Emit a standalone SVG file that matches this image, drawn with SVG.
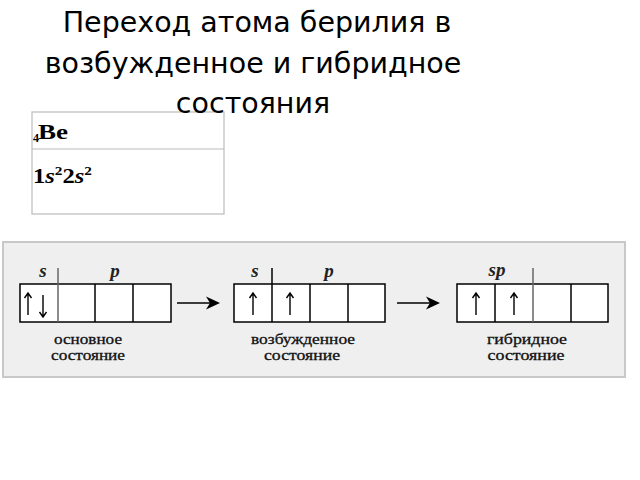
<svg xmlns="http://www.w3.org/2000/svg" width="640" height="480" viewBox="0 0 640 480">
<style>
.title{font-family:"DejaVu Sans",sans-serif;font-size:28.5px;fill:#000;text-anchor:middle}
.cell{fill:#fff;stroke:#000;stroke-width:1.5}
.div{stroke:#000;stroke-width:1.5}
.divg{stroke:#666;stroke-width:1.5}
.orb{font-family:"Liberation Serif",serif;font-style:italic;font-weight:bold;font-size:19px;fill:#222;text-anchor:middle}
.lbl{font-family:"Liberation Serif",serif;font-size:14.5px;fill:#111;stroke:#111;stroke-width:0.3;text-anchor:middle}
.spin{stroke:#000;stroke-width:1.4;fill:none}
.conn{stroke:#000;stroke-width:1.6;fill:none}
.tbl{font-family:"Liberation Serif",serif;font-weight:bold;fill:#000}
</style>
<defs>
<path id="up" class="spin" d="M0,22 V0 M-3.5,5 L0,0 L3.5,5"/>
<path id="down" class="spin" d="M0,0 V22 M-3.5,17 L0,22 L3.5,17"/>
</defs>
<rect width="640" height="480" fill="#fff"/>
<g id="table">
<rect x="32" y="112" width="192" height="102" fill="#fff" stroke="#bbb" stroke-width="1.2"/>
<line x1="32" y1="149" x2="224" y2="149" stroke="#bbb" stroke-width="1.2"/>
<text class="tbl" x="33" y="142" font-size="12">4</text>
<text class="tbl" x="38" y="138.5" font-size="21" textLength="30" lengthAdjust="spacingAndGlyphs">Be</text>
<text class="tbl" x="33" y="183" font-size="21" textLength="59" lengthAdjust="spacingAndGlyphs">1<tspan font-style="italic">s</tspan><tspan font-size="13" dy="-8">2</tspan><tspan dy="8">2</tspan><tspan font-style="italic">s</tspan><tspan font-size="13" dy="-8">2</tspan></text>
</g>
<g id="title">
<text class="title" x="257" y="32">Переход атома берилия в</text>
<text class="title" x="253" y="73">возбужденное и гибридное</text>
<text class="title" x="253" y="113">состояния</text>
</g>
<rect id="panel" x="3" y="242" width="622" height="135" fill="#efefef" stroke="#c8c8c8" stroke-width="2"/>
<g id="ground">
<rect class="cell" x="20" y="284" width="151" height="38"/>
<line class="divg" x1="58" y1="268" x2="58" y2="322"/>
<line class="div" x1="95" y1="284" x2="95" y2="322"/>
<line class="div" x1="133" y1="284" x2="133" y2="322"/>
<text class="orb" x="43" y="277">s</text>
<text class="orb" x="115" y="277">p</text>
<use href="#up" x="28" y="293"/>
<use href="#down" x="43" y="295"/>
<text class="lbl" x="88" y="344" textLength="68" lengthAdjust="spacingAndGlyphs">основное</text>
<text class="lbl" x="88" y="360" textLength="74" lengthAdjust="spacingAndGlyphs">состояние</text>
</g>
<g id="excited">
<rect class="cell" x="234" y="284" width="151" height="38"/>
<line class="div" x1="272" y1="268" x2="272" y2="322"/>
<line class="div" x1="310" y1="284" x2="310" y2="322"/>
<line class="div" x1="348" y1="284" x2="348" y2="322"/>
<text class="orb" x="255" y="277">s</text>
<text class="orb" x="329" y="277">p</text>
<use href="#up" x="253" y="293"/>
<use href="#up" x="290" y="293"/>
<text class="lbl" x="303" y="344" textLength="104" lengthAdjust="spacingAndGlyphs">возбужденное</text>
<text class="lbl" x="302" y="360" textLength="76" lengthAdjust="spacingAndGlyphs">состояние</text>
</g>
<g id="hybrid">
<rect class="cell" x="457" y="284" width="151" height="38"/>
<line class="div" x1="495" y1="284" x2="495" y2="322"/>
<line class="divg" x1="533" y1="268" x2="533" y2="322"/>
<line class="div" x1="571" y1="284" x2="571" y2="322"/>
<text class="orb" x="497" y="276">sp</text>
<use href="#up" x="476" y="293"/>
<use href="#up" x="514" y="293"/>
<text class="lbl" x="527" y="344" textLength="80" lengthAdjust="spacingAndGlyphs">гибридное</text>
<text class="lbl" x="526" y="360" textLength="77" lengthAdjust="spacingAndGlyphs">состояние</text>
</g>
<g id="connectors">
<line class="conn" x1="177" y1="303" x2="216" y2="303"/>
<path d="M206,296.5 L220,303 L206,309.5 L210,303 Z" fill="#000"/>
<line class="conn" x1="397" y1="303" x2="436" y2="303"/>
<path d="M426,296.5 L440,303 L426,309.5 L430,303 Z" fill="#000"/>
</g>
</svg>
